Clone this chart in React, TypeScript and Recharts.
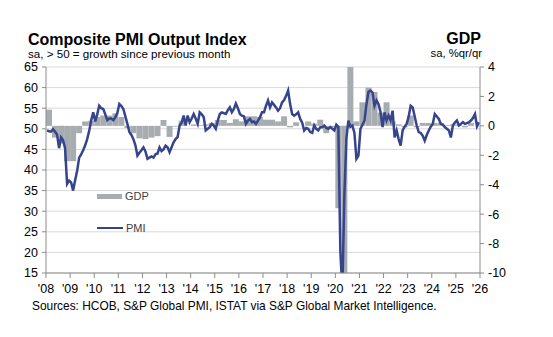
import React from 'react'
import { ComposedChart, Bar, Line, XAxis, YAxis, CartesianGrid, Legend } from 'recharts'

const START_YEAR = 2008
const yearTicks = [2008, 2009, 2010, 2011, 2012, 2013, 2014, 2015, 2016, 2017, 2018, 2019, 2020, 2021, 2022, 2023, 2024, 2025, 2026]
const pmiTicks = [15, 20, 25, 30, 35, 40, 45, 50, 55, 60, 65]
const gdpTicks = [-10, -8, -6, -4, -2, 0, 2, 4]

// Composite PMI, monthly from Jan 2008
const pmi = [
  49.6, 49.4, 49.3, 49.9, 49.3, 48.6, 45.3, 47.9, 47.2, 45.3, 36.6, 37.4, // 2008
  37.0, 35.0, 37.5, 39.8, 43.0, 43.8, 44.8, 46.0, 47.5, 49.5, 52.1, 54.0, // 2009
  51.8, 53.5, 55.6, 55.0, 54.8, 53.5, 52.1, 52.5, 52.5, 52.1, 52.8, 53.8, // 2010
  56.0, 55.5, 54.8, 53.0, 51.2, 49.2, 48.5, 47.5, 46.0, 43.5, 44.2, 44.8, // 2011
  45.5, 44.5, 42.7, 43.0, 43.3, 43.0, 43.8, 44.0, 45.5, 44.6, 45.0, 45.9, // 2012
  45.5, 44.3, 45.5, 46.7, 47.5, 48.0, 50.8, 51.5, 53.2, 50.8, 53.2, 51.6, // 2013
  52.5, 53.6, 52.5, 51.2, 54.0, 53.5, 52.8, 49.6, 50.0, 50.4, 51.2, 50.8, // 2014
  50.0, 52.0, 53.6, 54.0, 53.8, 53.6, 54.5, 55.2, 54.0, 54.8, 56.1, 55.0, // 2015
  53.6, 53.2, 53.0, 51.2, 52.0, 52.4, 51.6, 51.8, 51.2, 52.0, 52.8, 54.0, // 2016
  54.0, 55.6, 56.9, 55.2, 56.4, 55.8, 55.2, 54.4, 55.0, 56.4, 57.0, 58.0, // 2017
  59.3, 56.0, 53.6, 53.2, 53.5, 54.0, 52.4, 51.5, 49.6, 50.2, 50.0, 49.2, // 2018
  49.0, 50.8, 50.0, 49.6, 50.4, 50.4, 50.8, 50.2, 50.0, 50.4, 50.0, 49.6, // 2019
  51.0, 50.5, 20.2, 10.9, 33.9, 47.6, 52.0, 50.5, 50.8, 49.0, 42.7, 43.5, // 2020
  50.0, 51.0, 52.0, 56.0, 59.0, 59.3, 58.8, 55.6, 56.9, 56.0, 54.0, 50.4, // 2021
  54.0, 52.0, 53.2, 52.0, 54.4, 47.9, 49.6, 47.5, 45.9, 49.6, 50.5, 51.2, // 2022
  53.0, 55.6, 55.2, 53.0, 50.8, 49.2, 49.0, 48.3, 47.1, 48.5, 49.6, 50.5, // 2023
  51.2, 53.6, 53.0, 52.4, 51.2, 51.0, 50.4, 50.0, 49.6, 47.9, 50.8, 51.5, // 2024
  52.0, 50.8, 51.2, 51.6, 51.2, 51.4, 51.6, 52.0, 52.6, 53.6, 50.6, 51.6, // 2025
]

// GDP %q/q, quarterly from Q1 2008
const gdp = [
  1.1, -0.8, -1.2, -2.4,
  -2.4, -0.5, 0.3, 0.35,
  0.6, 0.7, 0.7, 0.85,
  0.6, -0.15, -0.5, -0.85,
  -0.9, -0.8, -0.7, 0.4,
  -0.75, -0.05, 0.35, 0.0,
  0.1, 0.05, 0.1, 0.2,
  0.4, 0.4, 0.2, 0.45,
  0.3, 0.65, 0.65, 0.6,
  0.42, 0.42, 0.3, 0.65,
  -0.1, 0.24, 0.0, 0.3,
  0.15, 0.42, -0.5, -0.1,
  -5.6, -12.8, 15.9, 0.3,
  1.6, 2.6, 2.3, 0.9,
  1.6, 0.3, 0.1, -0.1,
  0.7, -0.1, 0.2, 0.2,
  0.2, 0.2, 0.05, 0.1,
  0.1, -0.1, 0.2, null,
]

const pmiData = pmi.map((v, i) => ({ t: START_YEAR + (i + 0.5) / 12, pmi: v }))
const gdpData = gdp.map((v, i) => ({ q: i, t: START_YEAR + (i + 0.5) / 4, gdp: v }))

const FONT = '"Liberation Sans", Arial, sans-serif'
const PMI_COLOR = '#36448c'
const GDP_COLOR = '#a7acb1'
const AXIS_COLOR = '#8c8c8c'

const LegendBox = () => (
  <div style={{ fontFamily: FONT, fontSize: 11, color: '#404040', lineHeight: '14px' }}>
    <div style={{ display: 'flex', alignItems: 'center' }}>
      <span style={{ display: 'inline-block', width: 25, height: 5, background: GDP_COLOR, marginRight: 3 }} />
      GDP
    </div>
    <div style={{ display: 'flex', alignItems: 'center', marginTop: 18 }}>
      <span style={{ display: 'inline-block', width: 26, height: 2.5, background: PMI_COLOR, marginRight: 3 }} />
      PMI
    </div>
  </div>
)

export default function App() {
  const tick = { fill: '#000', fontSize: 12.5, fontFamily: FONT }
  return (
    <div style={{ position: 'fixed', left: 0, top: 0, width: 553, height: 337, background: '#fff' }}>
      <ComposedChart
        width={553}
        height={337}
        data={gdpData}
        margin={{ top: 67, right: 33, bottom: 34, left: 0 }}
        barCategoryGap={0}
      >
        <CartesianGrid vertical={false} stroke="#d9d9d9" />
        <XAxis
          type="number"
          dataKey="t"
          domain={[2008, 2026]}
          ticks={yearTicks}
          allowDataOverflow
          interval={0}
          tickFormatter={(y: number) => "'" + String(y).slice(2)}
          height={30}
          tickSize={5}
          tickMargin={6}
          stroke={AXIS_COLOR}
          tick={tick}
        />
        <XAxis xAxisId="q" type="category" dataKey="q" hide />
        <YAxis
          domain={[15, 65]}
          ticks={pmiTicks}
          allowDataOverflow
          interval={0}
          width={46}
          tickSize={4}
          tickMargin={4}
          stroke={AXIS_COLOR}
          tick={tick}
        />
        <YAxis
          yAxisId="gdp"
          orientation="right"
          domain={[-10, 4]}
          ticks={gdpTicks}
          allowDataOverflow
          interval={0}
          width={40}
          tickSize={4}
          tickMargin={4}
          stroke={AXIS_COLOR}
          tick={tick}
        />
        <Legend
          layout="vertical"
          align="center"
          verticalAlign="middle"
          content={<LegendBox />}
          wrapperStyle={{ left: 97, top: 189, width: 80, height: 50 }}
        />
        <Bar dataKey="gdp" name="GDP" xAxisId="q" yAxisId="gdp" fill={GDP_COLOR} isAnimationActive={false} />
        <Line
          data={pmiData}
          dataKey="pmi"
          name="PMI"
          type="linear"
          stroke={PMI_COLOR}
          strokeWidth={2.5}
          dot={false}
          activeDot={false}
          isAnimationActive={false}
        />
      </ComposedChart>
      <svg width={553} height={337} style={{ position: 'absolute', left: 0, top: 0, pointerEvents: 'none' }}>
        <g fontFamily={FONT} fill="#000">
          <text x={28} y={45} fontSize={16} fontWeight="bold">Composite PMI Output Index</text>
          <text x={28} y={57.5} fontSize={11.6}>sa, &gt; 50 = growth since previous month</text>
          <text x={481} y={44} fontSize={16} fontWeight="bold" textAnchor="end">GDP</text>
          <text x={482} y={57} fontSize={11.3} textAnchor="end">sa, %qr/qr</text>
          <text x={32} y={310} fontSize={11.9}>Sources: HCOB, S&amp;P Global PMI, ISTAT via S&amp;P Global Market  Intelligence.</text>
        </g>
      </svg>
    </div>
  )
}
